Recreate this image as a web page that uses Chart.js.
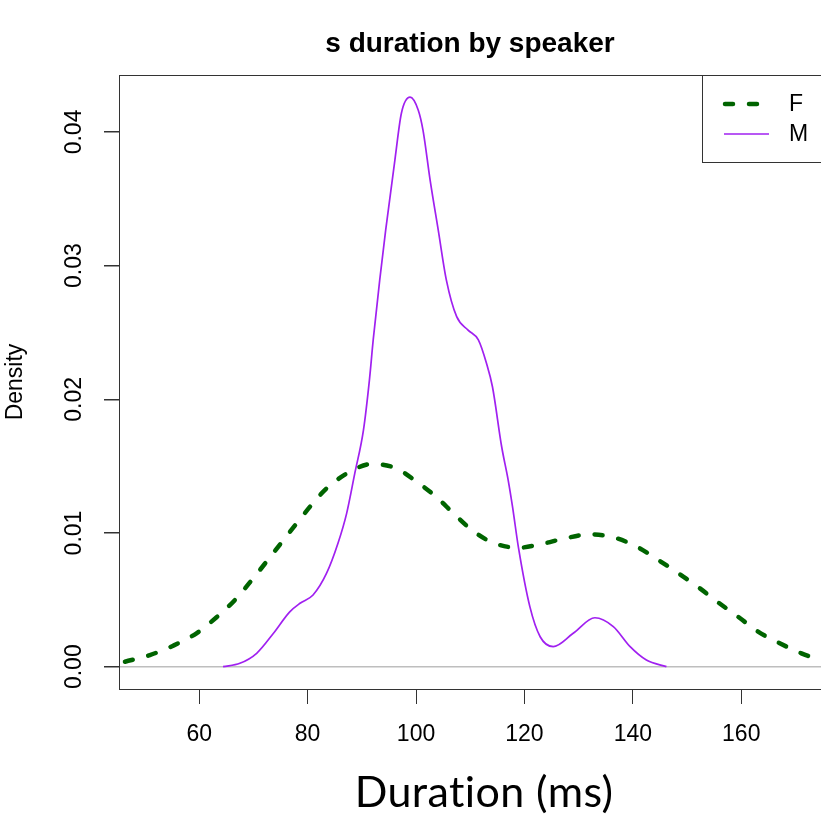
<!DOCTYPE html>
<html><head><meta charset="utf-8">
<script src="https://cdn.jsdelivr.net/npm/chart.js@4/dist/chart.umd.min.js"></script>
<style>
html,body{margin:0;padding:0;background:#fff;overflow:hidden;width:821px;height:818px}
#wrap{position:absolute;left:0;top:0;width:830px;height:818px}
</style>
</head><body><div id="wrap"><canvas id="c" width="830" height="818"></canvas></div>
<script>
const chartTitle = 's duration by speaker';
const xAxisLabel = 'Duration (ms)';
const yAxisLabel = 'Density';
const seriesNames = ['F', 'M'];

// F speaker density (dashed dark green)
const fX = [46.3, 50.9, 55.2, 59.5, 63.2, 66.6, 69.7, 72.4, 75.2, 78.0, 80.7, 83.5, 87.8, 91.8, 96.3, 100.1, 103.8, 106.9, 110.3, 114.2, 118.9, 123.2, 127.5, 132.1, 136.4, 140.7, 144.7, 148.4, 152.1, 155.8, 159.4, 163.1, 167.1, 171.1, 174.5];
const fY = [0.00037, 0.00087, 0.00157, 0.0025, 0.0037, 0.00499, 0.00648, 0.00785, 0.0093, 0.01073, 0.01209, 0.01334, 0.01458, 0.01516, 0.01484, 0.01384, 0.01267, 0.01147, 0.01022, 0.00927, 0.0089, 0.00918, 0.0096, 0.0099, 0.00968, 0.00898, 0.00798, 0.00699, 0.00594, 0.00479, 0.00374, 0.00262, 0.00175, 0.001, 0.0005];

// M speaker density (solid purple)
const mX = [64.4, 67.5, 70.6, 73.7, 76.7, 78.6, 81.0, 83.5, 85.6, 87.2, 88.7, 90.3, 91.4, 92.1, 93.3, 94.4, 96.1, 97.3, 98.9, 100.4, 101.3, 102.6, 104.1, 105.6, 107.5, 109.6, 111.5, 113.0, 114.1, 115.8, 117.0, 117.8, 118.9, 121.0, 122.9, 125.3, 129.0, 133.0, 136.4, 139.5, 142.5, 146.2];
const mY = [0.0, 0.00025, 0.001, 0.0025, 0.0041, 0.00474, 0.00536, 0.00699, 0.00923, 0.01147, 0.01446, 0.0177, 0.02144, 0.02444, 0.02892, 0.03266, 0.0379, 0.0414, 0.0426, 0.04164, 0.0401, 0.0364, 0.03266, 0.02892, 0.02618, 0.02518, 0.02444, 0.02269, 0.02094, 0.01645, 0.01396, 0.01197, 0.0089, 0.00449, 0.00224, 0.0015, 0.0025, 0.00366, 0.003, 0.0015, 0.0005, 0.0];

const xTicks = [60, 80, 100, 120, 140, 160];
const yTicks = [0, 0.01, 0.02, 0.03, 0.04];
const xRange = [45.2, 174.9];
const yRange = [-0.00167, 0.04426];

const FONT = '"Liberation Sans", Arial, sans-serif';

const decor = {
  id: 'decor',
  afterDatasetsDraw(chart) {
    const {ctx, chartArea: a} = chart;
    ctx.save();
    ctx.strokeStyle = '#333';
    ctx.lineWidth = 1;
    ctx.setLineDash([]);
    ctx.strokeRect(Math.round(a.left) + 0.5, Math.round(a.top) + 0.5, Math.round(a.right - a.left), Math.round(a.bottom - a.top));
    // legend box (R style, top-right)
    const lx = 702.5, ly = Math.round(a.top) + 0.5, lb = 162.5;
    ctx.fillStyle = '#fff';
    ctx.fillRect(lx, ly, a.right - lx, lb - ly);
    ctx.strokeRect(lx, ly, a.right - lx + 5, lb - ly);
    const rows = [104, 134];
    chart.data.datasets.forEach((ds, i) => {
      const y = rows[i];
      ctx.beginPath();
      ctx.strokeStyle = ds.borderColor;
      ctx.lineWidth = ds.borderWidth;
      ctx.lineCap = ds.borderCapStyle || 'butt';
      ctx.setLineDash(ds.borderDash || []);
      if (ds.borderDash) { ctx.moveTo(725, y); ctx.lineTo(760, y); }
      else { ctx.moveTo(724, y); ctx.lineTo(769, y); }
      ctx.stroke();
      ctx.setLineDash([]);
      ctx.fillStyle = '#000';
      ctx.font = '23px ' + FONT;
      ctx.textAlign = 'left';
      ctx.textBaseline = 'middle';
      ctx.fillText(ds.label, 789, y + 1);
    });
    ctx.restore();
  },
  afterDraw(chart) {
    const {ctx} = chart;
    ctx.save();
    ctx.fillStyle = '#000';
    ctx.textAlign = 'center';
    ctx.textBaseline = 'alphabetic';
    ctx.font = 'bold 28px ' + FONT;
    ctx.fillText(chartTitle, 470, 52);
    ctx.font = '43px Lato, "Open Sans", sans-serif';
    try { ctx.letterSpacing = '0.4px'; } catch (e) {}
    ctx.fillText(xAxisLabel, 484, 807);
    ctx.restore();
  }
};

new Chart(document.getElementById('c'), {
  type: 'line',
  data: {
    datasets: [
      {label: seriesNames[0], data: fX.map((x, i) => ({x, y: fY[i]})), borderColor: '#006400', borderWidth: 4.5,
       borderDash: [8, 16], borderCapStyle: 'round', pointRadius: 0, cubicInterpolationMode: 'monotone', fill: false},
      {label: seriesNames[1], data: mX.map((x, i) => ({x, y: mY[i]})), borderColor: '#A020F0', borderWidth: 1.7,
       pointRadius: 0, cubicInterpolationMode: 'monotone', fill: false}
    ]
  },
  options: {
    responsive: false, animation: false, devicePixelRatio: 1,
    layout: {padding: {top: 75, right: 8, left: 0, bottom: 0}},
    plugins: {legend: {display: false}, tooltip: {enabled: false}, title: {display: false}},
    scales: {
      x: {
        type: 'linear', min: xRange[0], max: xRange[1],
        afterFit(s) { s.height = 129; },
        afterBuildTicks(s) { s.ticks = xTicks.map(v => ({value: v})); },
        ticks: {font: {family: FONT, size: 23}, color: '#000', padding: 17, maxRotation: 0, autoSkip: false, callback: v => String(v)},
        grid: {drawOnChartArea: false, tickLength: 15, tickColor: '#333'},
        border: {display: false}
      },
      y: {
        type: 'linear', min: yRange[0], max: yRange[1],
        afterFit(s) { s.width = 119; },
        afterBuildTicks(s) { s.ticks = yTicks.map(v => ({value: v})); },
        ticks: {font: {family: FONT, size: 23}, color: '#000', padding: 6.6, minRotation: 90, maxRotation: 90, crossAlign: 'center', autoSkip: false, callback: v => Number(v).toFixed(2)},
        grid: {color: c => (c.tick && Math.abs(c.tick.value) < 1e-9) ? '#bebebe' : 'rgba(0,0,0,0)', tickColor: '#333', tickLength: 15, lineWidth: 1.5},
        border: {display: false},
        title: {display: true, text: yAxisLabel, font: {family: FONT, size: 23}, color: '#000', padding: {top: 2, bottom: 0}}
      }
    }
  },
  plugins: [decor]
});
</script>
</body></html>
